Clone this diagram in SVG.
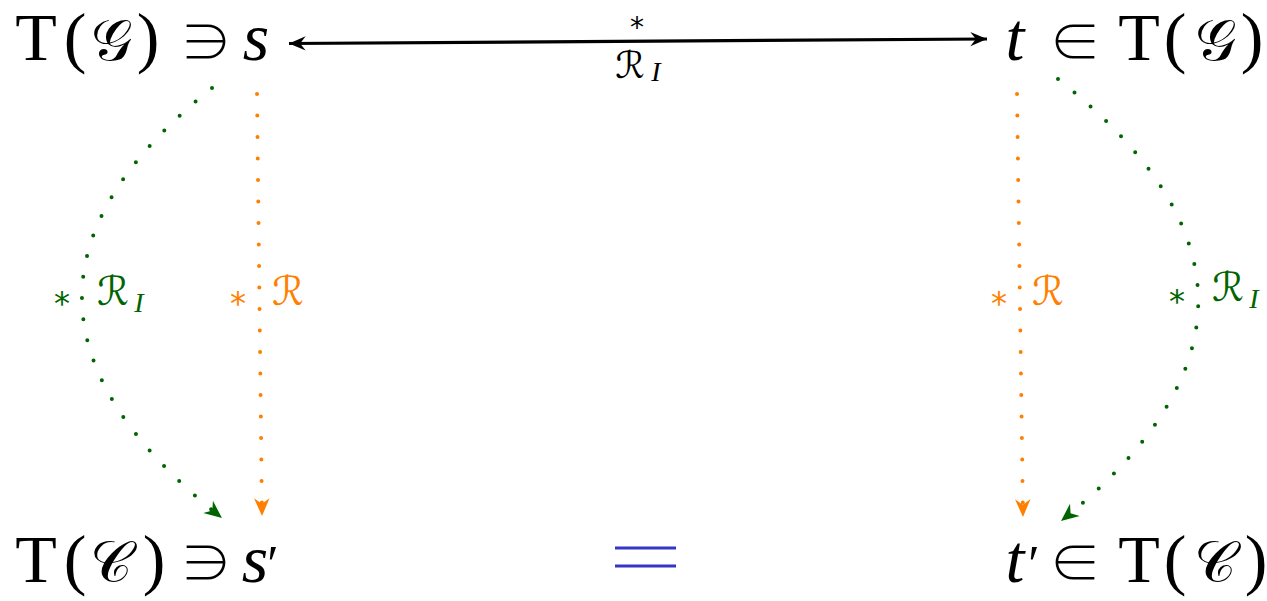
<svg xmlns="http://www.w3.org/2000/svg" width="1267" height="601" viewBox="0 0 1267 601">
<style>
.m{font-family:"Liberation Serif","DejaVu Serif",serif;font-size:68px;fill:#000;text-anchor:middle}
.i{font-style:italic}
.rel{font-family:"Noto Sans CJK JP","DejaVu Sans",sans-serif;font-weight:300;font-size:52px}
.cal{font-family:"DejaVu Sans","Noto Sans",serif;font-size:58px;font-style:normal}
.lab{font-family:"DejaVu Sans","Liberation Serif",serif;font-size:32px;text-anchor:middle}
.R{font-family:"DejaVu Sans",serif;font-size:40px;text-anchor:middle}
.sub{font-family:"Liberation Serif",serif;font-style:italic;font-size:28px;text-anchor:middle}
.g{fill:#006400}
.o{fill:#ff8000}
.dg{fill:none;stroke:#006400;stroke-width:4;stroke-linecap:round;stroke-dasharray:0 21.3}
.do{fill:none;stroke:#ff8000;stroke-width:4;stroke-linecap:round;stroke-dasharray:0 21.5}
</style>
<defs>
<marker id="ak" markerUnits="userSpaceOnUse" markerWidth="20" markerHeight="20" viewBox="-16 -8 18 16" refX="0" refY="0" orient="auto-start-reverse"><path d="M0,0 L-15,-6.5 L-10,0 L-15,6.5 Z" fill="#000"/></marker>
<marker id="ag" markerUnits="userSpaceOnUse" markerWidth="20" markerHeight="20" viewBox="-16 -8 18 16" refX="0" refY="0" orient="auto"><path d="M0,0 L-16,-7 L-11,0 L-16,7 Z" fill="#006400"/></marker>
<marker id="ao" markerUnits="userSpaceOnUse" markerWidth="20" markerHeight="20" viewBox="-16 -8 18 16" refX="0" refY="0" orient="auto"><path d="M0,0 L-16,-7 L-11,0 L-16,7 Z" fill="#ff8000"/></marker>
</defs>

<g id="TGs">
<text class="m" x="36" y="60">T</text>
<text class="m" x="75" y="60">(</text>
<text class="m cal" x="111" y="60">𝒢</text>
<text class="m" x="148" y="60">)</text>
<text class="m rel" x="206" y="61">∋</text>
<text class="m i" x="256" y="60">s</text>
</g>

<g id="tTG">
<text class="m i" x="1015" y="60">t</text>
<text class="m rel" x="1075" y="61">∈</text>
<text class="m" x="1139" y="60">T</text>
<text class="m" x="1175" y="60">(</text>
<text class="m cal" x="1215" y="60">𝒢</text>
<text class="m" x="1252" y="60">)</text>
</g>

<g id="TCs">
<text class="m" x="36" y="582">T</text>
<text class="m" x="75" y="582">(</text>
<text class="m cal" x="111" y="582">𝒞</text>
<text class="m" x="154" y="582">)</text>
<text class="m rel" x="206" y="582">∋</text>
<text class="m i" x="255" y="582">s</text>
<text class="m" x="273" y="582" style="font-size:52px">′</text>
</g>

<g id="tTC">
<text class="m i" x="1015" y="582">t</text>
<text class="m" x="1034" y="582" style="font-size:52px">′</text>
<text class="m rel" x="1075" y="582">∈</text>
<text class="m" x="1139" y="582">T</text>
<text class="m" x="1175" y="582">(</text>
<text class="m cal" x="1215" y="582">𝒞</text>
<text class="m" x="1256" y="582">)</text>
</g>

<g id="eq">
<line x1="615" y1="548" x2="676" y2="548" stroke="#3535c8" stroke-width="3"/>
<line x1="615" y1="566" x2="676" y2="566" stroke="#3535c8" stroke-width="3"/>
</g>

<g id="connectors">
<line x1="289" y1="43.5" x2="987" y2="39" stroke="#000" stroke-width="3.2" marker-start="url(#ak)" marker-end="url(#ak)"/>
<text class="lab" x="637" y="37" style="font-size:28px">*</text>
<text class="R" x="630" y="78" style="font-size:37px">ℛ</text>
<text class="sub" x="656" y="81">I</text>

<path class="dg" d="M212,88 Q-53,300 222,518" marker-end="url(#ag)"/>
<text class="lab g" x="62" y="314">*</text>
<text class="R g" x="113" y="305">ℛ</text>
<text class="sub g" x="139" y="312">I</text>

<path class="do" d="M257,94 L262,516" marker-end="url(#ao)"/>
<text class="lab o" x="238" y="314">*</text>
<text class="R o" x="288" y="305">ℛ</text>

<path class="do" d="M1017,94 L1023,517" marker-end="url(#ao)"/>
<text class="lab o" x="999" y="314">*</text>
<text class="R o" x="1048" y="305">ℛ</text>

<path class="dg" d="M1058,79 Q1337,300 1061,521" marker-end="url(#ag)"/>
<text class="lab g" x="1177" y="312">*</text>
<text class="R g" x="1228" y="301">ℛ</text>
<text class="sub g" x="1254" y="308">I</text>
</g>
</svg>
